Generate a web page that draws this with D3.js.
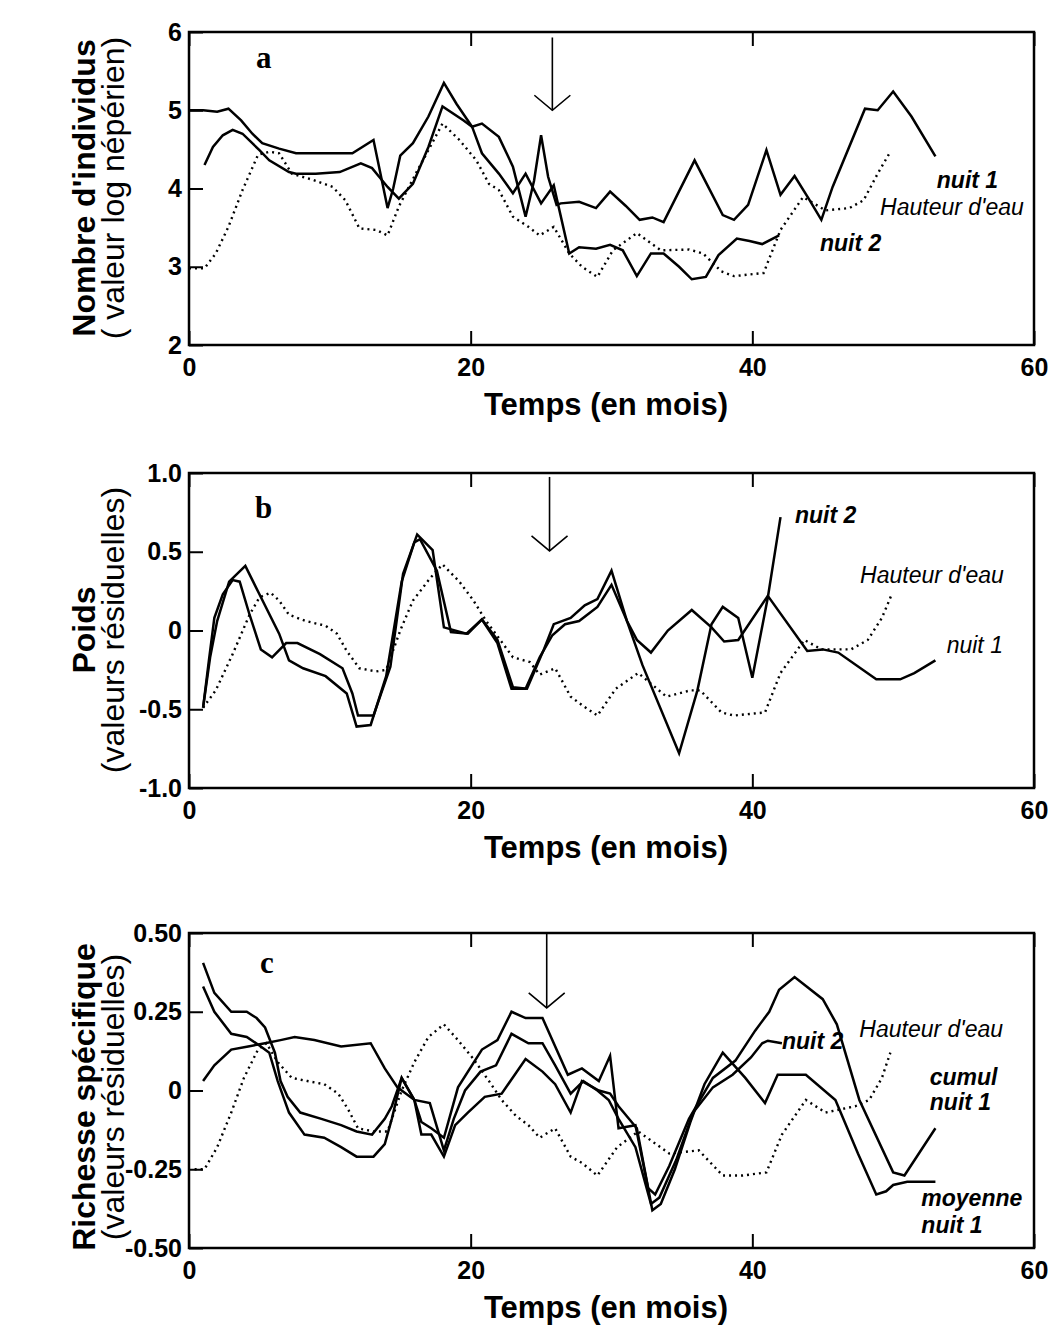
<!DOCTYPE html>
<html>
<head>
<meta charset="utf-8">
<script src="https://cdn.jsdelivr.net/npm/d3@7"></script>
<style>
  body { margin: 0; background: #fff; }
  svg text { font-family: "Liberation Sans", Arial, Helvetica, sans-serif; fill: #000; }
</style>
</head>
<body>
<svg id="chart" width="1053" height="1327"></svg>
<script>
// ---- data (month, value) ----
const xTicks = [0, 20, 40, 60];

const aYTicks = [2, 3, 4, 5, 6];
const bYTicks = [-1, -0.5, 0, 0.5, 1];
const bYTickLabels = ['-1.0', '-0.5', '0', '0.5', '1.0'];
const cYTicks = [-0.5, -0.25, 0, 0.25, 0.5];
const cYTickLabels = ['-0.50', '-0.25', '0', '0.25', '0.50'];

// panel a : Nombre d'individus
const aNuit1 = [[0,5.0],[1,5.0],[2,4.98],[2.8,5.02],[3.7,4.87],[4.5,4.7],[5.2,4.58],[6.4,4.51],[7.6,4.45],[9,4.45],[10.5,4.45],[11.6,4.45],[13.1,4.62],[14.1,3.75],[14.5,4.0],[15.0,4.42],[15.9,4.58],[17.0,4.92],[18.1,5.35],[19.0,5.08],[20.1,4.79],[20.8,4.83],[22.0,4.66],[23.0,4.28],[23.9,3.64],[24.5,4.1],[25.0,4.68],[25.5,4.15],[26.1,3.79],[26.4,3.81],[27.7,3.83],[28.9,3.75],[29.9,3.96],[31.0,3.78],[32.0,3.60],[32.9,3.63],[33.7,3.57],[35.9,4.36],[37.9,3.66],[38.7,3.60],[39.7,3.79],[41.0,4.49],[42.0,3.92],[43.0,4.16],[44.0,3.87],[44.9,3.60],[45.7,4.02],[48.0,5.02],[48.9,5.0],[50.0,5.24],[51.3,4.92],[53.0,4.41]];
const aNuit2 = [[1.1,4.30],[1.7,4.53],[2.4,4.68],[3.1,4.75],[3.8,4.70],[5.0,4.49],[5.7,4.36],[7.1,4.21],[7.6,4.19],[9,4.19],[10.7,4.21],[12.2,4.32],[13.0,4.26],[13.5,4.15],[14.1,4.02],[14.9,3.87],[15.9,4.06],[17.0,4.53],[18.0,5.05],[19.5,4.87],[20.1,4.79],[20.8,4.45],[22.0,4.19],[23.0,3.94],[23.9,4.19],[25.0,3.81],[25.9,4.04],[27.0,3.17],[27.7,3.25],[28.9,3.23],[29.9,3.28],[30.8,3.21],[31.8,2.88],[32.8,3.17],[33.7,3.17],[34.8,3.0],[35.7,2.84],[36.7,2.87],[37.6,3.15],[38.9,3.36],[39.8,3.33],[40.7,3.29],[41.9,3.40]];
const aHauteur = [[0,2.98],[1.1,2.98],[1.9,3.17],[2.8,3.51],[3.8,3.98],[4.9,4.43],[5.7,4.47],[6.4,4.45],[7.3,4.19],[8.8,4.11],[10.2,4.02],[11.1,3.85],[12.1,3.49],[13.3,3.47],[14.1,3.40],[14.9,3.77],[16.1,4.19],[17.0,4.49],[18.0,4.83],[19.2,4.62],[20.4,4.36],[21.3,4.06],[22.0,3.98],[23.0,3.64],[24.1,3.51],[24.9,3.40],[25.9,3.51],[27.0,3.17],[27.9,3.0],[29.0,2.87],[30.1,3.21],[31.8,3.43],[33.5,3.21],[35.5,3.22],[36.5,3.17],[37.8,2.94],[38.7,2.88],[40.8,2.92],[42.0,3.47],[43.6,3.89],[45.2,3.72],[46.9,3.75],[47.9,3.85],[48.9,4.19],[49.8,4.47]];

// panel b : Poids
const bNuit1 = [[1.0,-0.49],[1.4,-0.2],[1.8,0.08],[2.4,0.23],[3.1,0.32],[3.6,0.31],[4.3,0.10],[5.1,-0.12],[5.9,-0.17],[6.9,-0.08],[7.7,-0.08],[9.3,-0.15],[10.9,-0.24],[11.6,-0.40],[12.0,-0.54],[13.1,-0.54],[14.3,-0.23],[15.2,0.36],[16.2,0.61],[17.3,0.51],[18.1,0.02],[19.7,-0.02],[20.8,0.07],[21.9,-0.08],[22.9,-0.37],[23.9,-0.37],[24.9,-0.17],[25.8,-0.03],[26.7,0.04],[27.7,0.06],[29.0,0.15],[30.0,0.29],[31.1,0.06],[31.8,-0.06],[32.8,-0.14],[34.0,0.0],[35.7,0.13],[37.1,0.02],[38.0,-0.07],[39.0,-0.06],[41.1,0.22],[43.9,-0.13],[45.0,-0.12],[46.1,-0.14],[48.8,-0.31],[50.5,-0.31],[51.5,-0.27],[53.0,-0.19]];
const bNuit2 = [[1.0,-0.49],[1.5,-0.17],[2.0,0.06],[2.85,0.31],[4.0,0.41],[5.0,0.23],[6.4,-0.02],[7.1,-0.19],[8.1,-0.24],[9.7,-0.29],[11.2,-0.40],[11.9,-0.61],[12.9,-0.60],[14.0,-0.29],[15.1,0.31],[16.0,0.56],[16.4,0.58],[17.6,0.38],[18.6,-0.01],[19.8,-0.02],[20.8,0.07],[21.9,-0.06],[23.0,-0.36],[24.0,-0.37],[25.2,-0.12],[25.9,0.04],[27.1,0.08],[28.1,0.16],[29.0,0.20],[30.0,0.38],[31.1,0.06],[32.2,-0.22],[34.8,-0.78],[36.1,-0.38],[37.1,0.04],[37.9,0.15],[39.0,0.08],[40.0,-0.30],[41.1,0.21],[42.0,0.72]];
const bHauteur = [[1.0,-0.49],[1.9,-0.38],[3.1,-0.15],[4.3,0.10],[5.0,0.21],[5.8,0.24],[6.4,0.19],[7.1,0.10],[8.3,0.06],[9.7,0.03],[10.5,-0.02],[11.2,-0.13],[12.1,-0.24],[13.3,-0.26],[14.0,-0.25],[15.0,0.0],[15.9,0.19],[17.1,0.33],[18.0,0.42],[19.2,0.31],[20.2,0.19],[21.1,0.06],[22.1,-0.06],[23.0,-0.17],[24.2,-0.20],[24.9,-0.28],[26.0,-0.24],[27.1,-0.42],[28.0,-0.48],[29.0,-0.54],[30.3,-0.37],[31.9,-0.27],[33.9,-0.42],[35.6,-0.38],[36.3,-0.38],[37.8,-0.52],[38.7,-0.54],[40.9,-0.52],[42.0,-0.27],[43.7,-0.06],[44.9,-0.12],[47.0,-0.12],[48.2,-0.06],[49.2,0.08],[49.9,0.23]];

// panel c : Richesse spécifique
const cCumul = [[1.0,0.405],[1.8,0.31],[3.0,0.25],[4.1,0.25],[4.8,0.23],[5.4,0.20],[6.1,0.12],[6.5,0.03],[7.0,-0.02],[7.9,-0.07],[9.4,-0.09],[10.8,-0.11],[11.9,-0.13],[13.0,-0.14],[13.9,-0.09],[14.4,-0.05],[15.1,0.04],[16.0,-0.03],[16.5,-0.10],[17.2,-0.12],[18.1,-0.15],[19.1,0.01],[20.8,0.13],[21.9,0.16],[22.9,0.25],[23.9,0.23],[25.1,0.23],[26.9,0.05],[27.9,0.07],[29.1,0.03],[29.9,0.11],[30.5,-0.12],[31.7,-0.11],[32.6,-0.31],[33.1,-0.33],[34.1,-0.24],[35.5,-0.09],[37.2,0.04],[38.8,0.095],[40.2,0.19],[41.2,0.25],[41.9,0.32],[43.0,0.36],[45.0,0.29],[46.0,0.21],[47.6,-0.03],[50.0,-0.26],[50.8,-0.27],[53.0,-0.12]];
const cMoyenne = [[1.0,0.33],[1.8,0.25],[3.0,0.18],[4.1,0.17],[5.1,0.14],[5.7,0.12],[6.3,0.03],[7.1,-0.07],[8.2,-0.14],[9.6,-0.15],[10.8,-0.18],[11.9,-0.21],[13.1,-0.21],[13.9,-0.17],[14.4,-0.09],[15.1,0.04],[16.0,-0.03],[16.5,-0.14],[17.2,-0.14],[18.1,-0.21],[18.9,-0.11],[19.8,-0.07],[21.0,-0.02],[22.2,-0.01],[23.9,0.10],[25.1,0.06],[26.0,0.02],[27.1,-0.07],[27.9,0.03],[29.1,0.0],[29.9,-0.01],[30.5,-0.05],[31.8,-0.12],[32.9,-0.38],[33.5,-0.36],[34.5,-0.25],[35.6,-0.10],[36.6,0.02],[37.9,0.12],[39.5,0.04],[40.9,-0.04],[41.8,0.05],[43.8,0.05],[45.9,-0.03],[47.5,-0.20],[48.8,-0.33],[49.5,-0.32],[50.0,-0.30],[51.0,-0.29],[53.0,-0.29]];
const cNuit2 = [[1.0,0.03],[1.8,0.08],[3.0,0.13],[4.2,0.14],[5.4,0.15],[6.5,0.16],[7.5,0.17],[8.9,0.16],[10.8,0.14],[12.9,0.15],[13.9,0.07],[14.8,0.01],[16.0,-0.03],[17.1,-0.04],[18.1,-0.19],[18.8,-0.09],[19.6,0.0],[20.7,0.06],[21.8,0.08],[22.9,0.18],[24.1,0.15],[25.1,0.15],[26.0,0.08],[27.1,-0.01],[28.0,0.03],[29.0,0.0],[29.8,-0.03],[30.5,-0.09],[31.7,-0.18],[32.8,-0.36],[33.4,-0.34],[34.6,-0.22],[35.8,-0.07],[37.2,0.01],[38.6,0.05],[39.9,0.105],[40.7,0.15],[41.1,0.158],[42.1,0.15]];
const cHauteur = [[0.4,-0.25],[1.1,-0.25],[2.0,-0.18],[3.0,-0.07],[3.9,0.04],[4.9,0.13],[5.5,0.15],[6.3,0.09],[7.3,0.04],[8.4,0.03],[9.6,0.02],[10.6,-0.01],[11.3,-0.06],[12.0,-0.12],[13.1,-0.13],[14.1,-0.13],[15.1,0.0],[16.0,0.09],[17.0,0.17],[18.1,0.21],[19.1,0.16],[20.2,0.10],[21.3,0.03],[22.2,-0.03],[23.2,-0.08],[24.1,-0.11],[24.9,-0.15],[26.0,-0.12],[27.1,-0.21],[27.9,-0.23],[29.0,-0.27],[30.4,-0.18],[31.9,-0.13],[34.1,-0.20],[36.2,-0.19],[37.9,-0.27],[39.3,-0.27],[41.0,-0.26],[42.1,-0.14],[43.8,-0.03],[45.2,-0.07],[47.3,-0.05],[48.3,-0.03],[49.2,0.04],[49.8,0.12]];

// arrow (month, from value, to value)
const aArrow = [25.8, 5.93, 5.0];
const bArrow = [25.6, 0.975, 0.505];
const cArrow = [25.4, 0.5, 0.262];

// ---- drawing ----
const svg = d3.select('#chart');
const x = d3.scaleLinear().domain([0, 60]).range([189, 1034]);

const panels = [
  {
    top: 32, bottom: 345, yDomain: [2, 6], yTicks: aYTicks, yLabels: aYTicks.map(String),
    title: ["Nombre d'individus", "( valeur log népérien)"], titleY: 188,
    letter: 'a', letterAt: [4.76, 5.54],
    series: [aNuit1, aNuit2], water: aHauteur, arrow: aArrow,
    labels: [
      { t: 'nuit 1', m: 53.1, v: 4.01, bold: true },
      { t: "Hauteur d'eau", m: 49.07, v: 3.66 },
      { t: 'nuit 2', m: 44.8, v: 3.20, bold: true }
    ]
  },
  {
    top: 473, bottom: 788, yDomain: [-1, 1], yTicks: bYTicks, yLabels: bYTickLabels,
    title: ['Poids', '(valeurs résiduelles)'], titleY: 630,
    letter: 'b', letterAt: [4.69, 0.714],
    series: [bNuit1, bNuit2], water: bHauteur, arrow: bArrow,
    labels: [
      { t: 'nuit 2', m: 43.03, v: 0.68, bold: true },
      { t: "Hauteur d'eau", m: 47.65, v: 0.30 },
      { t: 'nuit 1', m: 53.8, v: -0.14 }
    ]
  },
  {
    top: 933, bottom: 1248, yDomain: [-0.5, 0.5], yTicks: cYTicks, yLabels: cYTickLabels,
    title: ['Richesse spécifique', '(valeurs résiduelles)'], titleY: 1097,
    letter: 'c', letterAt: [5.05, 0.373],
    series: [cCumul, cMoyenne, cNuit2], water: cHauteur, arrow: cArrow,
    labels: [
      { t: 'nuit 2', m: 42.1, v: 0.132, bold: true },
      { t: "Hauteur d'eau", m: 47.6, v: 0.170 },
      { t: 'cumul', m: 52.6, v: 0.016, bold: true },
      { t: 'nuit 1', m: 52.6, v: -0.063, bold: true },
      { t: 'moyenne', m: 52.0, v: -0.367, bold: true },
      { t: 'nuit 1', m: 52.0, v: -0.452, bold: true }
    ]
  }
];

panels.forEach(p => {
  const y = d3.scaleLinear().domain(p.yDomain).range([p.bottom, p.top]);
  const g = svg.append('g');

  // left axis, ticks pointing inward
  const yAxis = g.append('g')
    .attr('transform', `translate(${x(0)},0)`)
    .call(d3.axisLeft(y).tickValues(p.yTicks).tickFormat((d, i) => p.yLabels[i])
      .tickSizeInner(-14).tickSizeOuter(0).tickPadding(7));

  const xAxis = g.append('g')
    .attr('transform', `translate(0,${p.bottom})`)
    .call(d3.axisBottom(x).tickValues(xTicks).tickFormat(d3.format('d'))
      .tickSizeInner(-14).tickSizeOuter(0).tickPadding(13));

  const topAxis = g.append('g')
    .attr('transform', `translate(0,${p.top})`)
    .call(d3.axisTop(x).tickValues(xTicks).tickFormat('')
      .tickSizeInner(-14).tickSizeOuter(0));

  [yAxis, xAxis, topAxis].forEach(a => {
    a.select('.domain').remove();
    a.selectAll('line').attr('stroke', '#000').attr('stroke-width', 2);
    a.selectAll('text').attr('fill', '#000')
      .style('font-size', '25px').style('font-weight', 'bold')
      .style('font-family', '"Liberation Sans", Arial, sans-serif');
  });

  // frame
  g.append('rect')
    .attr('x', x(0)).attr('y', p.top)
    .attr('width', x(60) - x(0)).attr('height', p.bottom - p.top)
    .attr('fill', 'none').attr('stroke', '#000').attr('stroke-width', 2.5);

  const line = d3.line().x(d => x(d[0])).y(d => y(d[1]));

  g.append('path')
    .attr('d', line(p.water))
    .attr('fill', 'none').attr('stroke', '#000')
    .attr('stroke-width', 2.4).attr('stroke-dasharray', '2 4');

  p.series.forEach(s => {
    g.append('path')
      .attr('d', line(s))
      .attr('fill', 'none').attr('stroke', '#000')
      .attr('stroke-width', 2.5).attr('stroke-linejoin', 'miter');
  });

  // arrow
  const [am, av0, av1] = p.arrow;
  const ax = x(am), ay0 = y(av0), ay1 = y(av1);
  g.append('line')
    .attr('x1', ax).attr('x2', ax).attr('y1', ay0).attr('y2', ay1)
    .attr('stroke', '#000').attr('stroke-width', 1.6);
  g.append('path')
    .attr('d', `M${ax - 18},${ay1 - 15}L${ax},${ay1}L${ax + 18},${ay1 - 15}`)
    .attr('fill', 'none').attr('stroke', '#000').attr('stroke-width', 1.6);

  // panel letter
  g.append('text')
    .attr('x', x(p.letterAt[0])).attr('y', y(p.letterAt[1]))
    .style('font-family', '"Liberation Serif", "Times New Roman", serif')
    .style('font-weight', 'bold').style('font-size', '31px')
    .text(p.letter);

  // series labels
  p.labels.forEach(l => {
    g.append('text')
      .attr('x', x(l.m)).attr('y', y(l.v))
      .style('font-size', '23px').style('font-style', 'italic')
      .style('font-weight', l.bold ? 'bold' : 'normal')
      .text(l.t);
  });

  // y titles
  g.append('text')
    .attr('transform', `translate(95,${p.titleY}) rotate(-90)`)
    .attr('text-anchor', 'middle')
    .style('font-size', '32px').style('font-weight', 'bold')
    .text(p.title[0]);
  g.append('text')
    .attr('transform', `translate(124,${p.titleY}) rotate(-90)`)
    .attr('text-anchor', 'middle')
    .style('font-size', '32px').style('font-weight', 'normal')
    .text(p.title[1]);

  // x title
  g.append('text')
    .attr('x', 606).attr('y', p.bottom + 70)
    .attr('text-anchor', 'middle')
    .style('font-size', '31px').style('font-weight', 'bold')
    .text('Temps (en mois)');
});
</script>
</body>
</html>
